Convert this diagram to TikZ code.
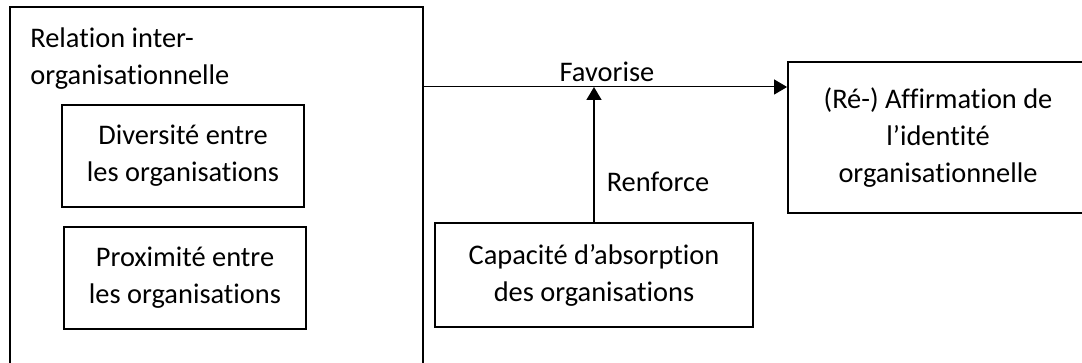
\documentclass[tikz,border=0pt]{standalone}
\usepackage{fontspec}
\setmainfont{Carlito}[Ligatures=NoCommon]
\usetikzlibrary{positioning, arrows.meta, calc}

\begin{document}
\begin{tikzpicture}[x=0.5pt, y=-0.5pt,
		every node/.style={font=\fontsize{14.2pt}{18.5pt}\selectfont},
		box/.style={draw, line width=0.9pt, inner sep=0pt, align=center},
		fleche/.style={-{Triangle[length=6.5pt, width=7.5pt]}}]
		\useasboundingbox (0,0) rectangle (1082,363);
		\clip (0,0) rectangle (1082,363);
		\node[box, minimum width=206.5pt, minimum height=191.5pt] (relation) at (216.5,198.5) {};
		\node[anchor=north west, inner sep=0pt, align=left] (titre) at (30,27) {Relation inter-\\organisationnelle};
		\node[box, minimum width=121pt, minimum height=51pt] (diversite) at (183,156) {Diversité entre\\les organisations};
		\node[box, minimum width=121pt, minimum height=51pt] (proximite) at (185,278) {Proximité entre\\les organisations};
		\node[box, minimum width=159pt, minimum height=52pt] (capacite) at (594,275) {Capacité d’absorption\\des organisations};
		\node[box, minimum width=150pt, minimum height=75.5pt] (identite) at (938,137.5) {(Ré-) Affirmation de\\l’identité\\organisationnelle};
		\coordinate (jonction) at (594,87);
		\draw[fleche, line width=0.5pt] (relation.east |- jonction) -- (identite.west |- jonction);
		\draw[fleche, line width=0.8pt] (capacite.north) -- (jonction);
		\node[anchor=base] (favorise) at (607,82) {Favorise};
		\node[anchor=base] (renforce) at (658,192) {Renforce};
	\end{tikzpicture}
\end{document}
